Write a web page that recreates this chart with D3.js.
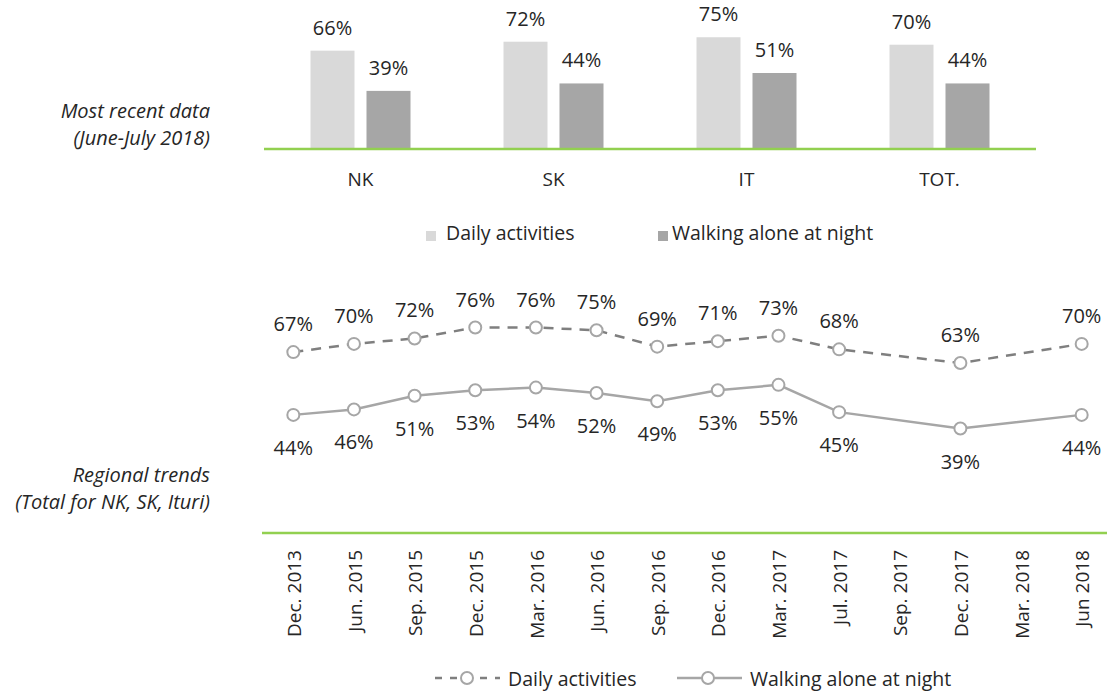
<!DOCTYPE html>
<html>
<head>
<meta charset="utf-8">
<script src="https://cdn.jsdelivr.net/npm/d3@7"></script>
<style>
  html, body { margin: 0; padding: 0; background: #fff; }
  svg { display: block; font-family: "Open Sans", sans-serif; }
</style>
</head>
<body>
<div id="chart"></div>
<script>
// top panel: most recent data by region
var regions = ["NK", "SK", "IT", "TOT."];
var dailyRecent = [66, 72, 75, 70];
var nightRecent = [39, 44, 51, 44];

// bottom panel: regional trends over time (null = no survey)
var periods = ["Dec. 2013", "Jun. 2015", "Sep. 2015", "Dec. 2015", "Mar. 2016", "Jun. 2016",
  "Sep. 2016", "Dec. 2016", "Mar. 2017", "Jul. 2017", "Sep. 2017", "Dec. 2017", "Mar. 2018", "Jun 2018"];
var dailyTrend = [67, 70, 72, 76, 76, 75, 69, 71, 73, 68, null, 63, null, 70];
var nightTrend = [44, 46, 51, 53, 54, 52, 49, 53, 55, 45, null, 39, null, 44];

var seriesNames = ["Daily activities", "Walking alone at night"];

var W = 1107, H = 692;
var green = "#92d050", textCol = "#262626";
var lightBar = "#d9d9d9", darkBar = "#a6a6a6";

var svg = d3.select("#chart").append("svg")
  .attr("width", W).attr("height", H);

// ── side captions ──
function caption(lines, y0) {
  var t = svg.append("text")
    .attr("text-anchor", "end")
    .attr("font-style", "italic")
    .attr("font-size", 20)
    .attr("fill", textCol);
  lines.forEach(function(s, i) {
    t.append("tspan").attr("x", 210).attr("y", y0 + i * 27).text(s);
  });
}
caption(["Most recent data", "(June-July 2018)"], 118);
caption(["Regional trends", "(Total for NK, SK, Ituri)"], 482);

// ── bar chart ──
var x0 = d3.scaleBand().domain(regions).range([264, 1036]);
var yBar = d3.scaleLinear().domain([0, 100]).range([149, 0]);
var barW = 44, barGap = 12;

var groups = svg.append("g").selectAll("g")
  .data(regions.map(function(r, i) { return { r: r, v: [dailyRecent[i], nightRecent[i]] }; }))
  .enter().append("g")
    .attr("transform", function(d) { return "translate(" + (x0(d.r) + x0.bandwidth() / 2) + ",0)"; });

[0, 1].forEach(function(k) {
  var off = k === 0 ? -barW - barGap / 2 : barGap / 2;
  groups.append("rect")
    .attr("x", off)
    .attr("y", function(d) { return yBar(d.v[k]); })
    .attr("width", barW)
    .attr("height", function(d) { return yBar(0) - yBar(d.v[k]); })
    .attr("fill", k === 0 ? lightBar : darkBar);
  groups.append("text")
    .attr("x", off + barW / 2)
    .attr("y", function(d) { return yBar(d.v[k]) - 16; })
    .attr("text-anchor", "middle")
    .attr("font-size", 20)
    .attr("fill", textCol)
    .text(function(d) { return d.v[k] + "%"; });
});

groups.append("text")
  .attr("y", 186)
  .attr("text-anchor", "middle")
  .attr("font-size", 19)
  .attr("fill", textCol)
  .text(function(d) { return d.r; });

svg.append("line")
  .attr("x1", 264).attr("x2", 1036)
  .attr("y1", yBar(0)).attr("y2", yBar(0))
  .attr("stroke", green).attr("stroke-width", 2.5);

// top legend
var legTop = [{ x: 426, tx: 446, c: lightBar }, { x: 658, tx: 672, c: darkBar }];
legTop.forEach(function(l, i) {
  svg.append("rect").attr("x", l.x).attr("y", 231).attr("width", 10).attr("height", 10).attr("fill", l.c);
  svg.append("text").attr("x", l.tx).attr("y", 240)
    .attr("font-size", 19.5).attr("fill", textCol).text(seriesNames[i]);
});

// ── line chart ──
var xL = d3.scaleBand().domain(periods).range([263, 1112]);
var yL = d3.scaleLinear().domain([0, 100]).range([535, 262]);
var cx = function(i) { return xL(periods[i]) + xL.bandwidth() / 2; };

svg.append("line")
  .attr("x1", 262).attr("x2", W)
  .attr("y1", 533).attr("y2", 533)
  .attr("stroke", green).attr("stroke-width", 2.5);

svg.append("g").selectAll("text")
  .data(periods).enter().append("text")
    .attr("transform", function(d) { return "translate(" + (xL(d) + xL.bandwidth() / 2) + ",550) rotate(-90)"; })
    .attr("dy", "0.4em")
    .attr("text-anchor", "end")
    .attr("font-size", 19)
    .attr("fill", textCol)
    .text(function(d) { return d; });

var line = d3.line().x(function(d) { return cx(d.i); }).y(function(d) { return yL(d.v); });

function drawSeries(vals, dashed, labelDy) {
  var pts = vals.map(function(v, i) { return { i: i, v: v }; }).filter(function(d) { return d.v != null; });
  svg.append("path")
    .attr("d", line(pts))
    .attr("fill", "none")
    .attr("stroke", dashed ? "#7f7f7f" : "#a6a6a6")
    .attr("stroke-width", 2.5)
    .attr("stroke-dasharray", dashed ? "10,8" : null);
  svg.append("g").selectAll("circle").data(pts).enter().append("circle")
    .attr("cx", function(d) { return cx(d.i); })
    .attr("cy", function(d) { return yL(d.v); })
    .attr("r", 6)
    .attr("fill", "#fff")
    .attr("stroke", "#a6a6a6")
    .attr("stroke-width", 2);
  svg.append("g").selectAll("text").data(pts).enter().append("text")
    .attr("x", function(d) { return cx(d.i); })
    .attr("y", function(d) { return yL(d.v) + labelDy; })
    .attr("text-anchor", "middle")
    .attr("font-size", 20)
    .attr("fill", textCol)
    .text(function(d) { return d.v + "%"; });
}
drawSeries(dailyTrend, true, -21);
drawSeries(nightTrend, false, 40);

// bottom legend
var ly = 678;
svg.append("line").attr("x1", 435).attr("x2", 500).attr("y1", ly).attr("y2", ly)
  .attr("stroke", "#7f7f7f").attr("stroke-width", 2.5).attr("stroke-dasharray", "7,8");
svg.append("circle").attr("cx", 467).attr("cy", ly).attr("r", 6)
  .attr("fill", "#fff").attr("stroke", "#a6a6a6").attr("stroke-width", 2);
svg.append("text").attr("x", 508).attr("y", 686).attr("font-size", 19.5).attr("fill", textCol).text(seriesNames[0]);

svg.append("line").attr("x1", 677).attr("x2", 742).attr("y1", ly).attr("y2", ly)
  .attr("stroke", "#a6a6a6").attr("stroke-width", 2.5);
svg.append("circle").attr("cx", 708).attr("cy", ly).attr("r", 6)
  .attr("fill", "#fff").attr("stroke", "#a6a6a6").attr("stroke-width", 2);
svg.append("text").attr("x", 750).attr("y", 686).attr("font-size", 19.5).attr("fill", textCol).text(seriesNames[1]);
</script>
</body>
</html>
